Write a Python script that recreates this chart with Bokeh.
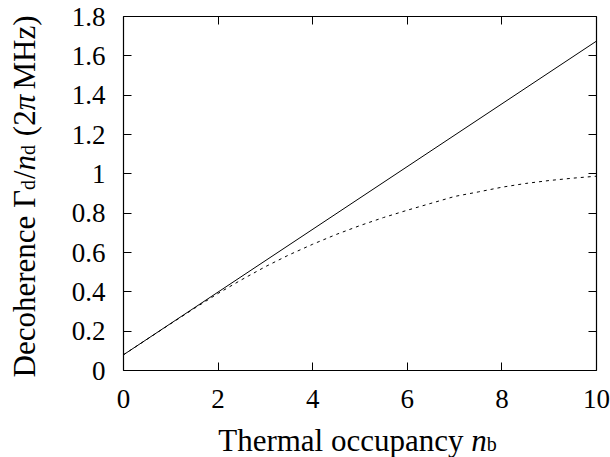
import math
from bokeh.plotting import figure
from bokeh.models import Range1d, FixedTicker, LinearAxis, Label
from bokeh.embed import file_html
from bokeh.resources import INLINE

# ---- data ----
x_solid = [0, 10]
y_solid = [0.08, 1.675]

x_dotted = [0, 0.5, 1, 1.5, 2, 2.5, 3, 3.5, 4, 4.5, 5, 5.5, 6, 6.5, 7, 7.5, 8, 8.5, 9, 9.5, 10]
y_dotted = [0.080, 0.159, 0.238, 0.316, 0.392, 0.462, 0.528, 0.588, 0.642, 0.692, 0.737,
            0.778, 0.815, 0.850, 0.885, 0.908, 0.932, 0.951, 0.966, 0.978, 0.988]

x_ticks = [0, 2, 4, 6, 8, 10]
x_tick_labels = ["0", "2", "4", "6", "8", "10"]
y_ticks = [0, 0.2, 0.4, 0.6, 0.8, 1, 1.2, 1.4, 1.6, 1.8]
y_tick_labels = ["0", "0.2", "0.4", "0.6", "0.8", "1", "1.2", "1.4", "1.6", "1.8"]

X0, X1 = 0, 10
Y0, Y1 = 0, 1.8

# ---- layout constants (pixels) ----
W, H = 610, 457
FL, FR, FT, FB = 123, 596, 16, 370      # where the data box sits on the page
FONT = "Liberation Serif"
TICK_SIZE = "27px"

# The frame spans the whole page; the ranges are widened so that the data box
# lands at FL..FR / FT..FB, and the axes are pinned to the box edges.
kx = (FR - FL) / (X1 - X0)
ky = (FB - FT) / (Y1 - Y0)
x_range = Range1d(X0 - FL / kx, X1 + (W - FR) / kx)
y_range = Range1d(Y0 - (H - FB) / ky, Y1 + FT / ky)

p = figure(width=W, height=H, x_range=x_range, y_range=y_range,
           x_axis_type=None, y_axis_type=None,
           output_backend="svg", toolbar_location=None,
           min_border=0, min_border_left=0, min_border_right=0,
           min_border_top=0, min_border_bottom=0)
p.grid.visible = False
p.outline_line_color = None
p.background_fill_color = "white"
p.border_fill_color = "white"

def make_axis(ticks, labels, show_labels, standoff, loc, bounds):
    ax = LinearAxis(fixed_location=loc, bounds=bounds)
    ax.ticker = FixedTicker(ticks=ticks)
    ax.major_tick_in = 8
    ax.major_tick_out = 0
    ax.minor_tick_line_color = None
    ax.major_tick_line_color = "black"
    ax.major_tick_line_width = 1
    ax.axis_line_color = "black"
    ax.axis_line_width = 1.2
    if show_labels:
        ax.major_label_overrides = {t: l for t, l in zip(ticks, labels)}
        ax.major_label_text_font = FONT
        ax.major_label_text_font_size = TICK_SIZE
        ax.major_label_text_color = "black"
        ax.major_label_standoff = standoff
    else:
        ax.major_label_text_font_size = "0px"
        ax.major_label_text_color = None
        ax.major_label_standoff = 0
    return ax

p.add_layout(make_axis(x_ticks, x_tick_labels, True, 19, Y0, (X0, X1)), "below")
p.add_layout(make_axis(y_ticks, y_tick_labels, True, 18, X0, (Y0, Y1)), "left")
p.add_layout(make_axis(x_ticks, x_tick_labels, False, 0, Y1, (X0, X1)), "above")
p.add_layout(make_axis(y_ticks, y_tick_labels, False, 0, X1, (Y0, Y1)), "right")

# ---- data lines ----
p.line(x_solid, y_solid, line_color="black", line_width=1)
p.line(x_dotted, y_dotted, line_color="black", line_width=1, line_dash="3 4")

# ---- axis titles built from pieces (roman / italic / subscript) ----
# screen units: x from the left edge of the frame (= page), y up from its bottom
def sx(px):
    return px

def sy(py):
    return H - py

TS = 31   # title font size
SS = 20   # subscript font size
SP = 0.25  # word space, em of the title font
SUB = 3.5  # subscript drop, px
# (text, style, size, baseline shift px, width in em, gap before in px)
x_title = [("Thermal occupancy", "normal", TS, 0, 7.914, 0),
           ("n", "italic", TS, 0, 0.5, SP * TS),
           ("b", "normal", SS, SUB, 0.55, 0)]
y_title = [("Decoherence", "normal", TS, 0, 5.219, 0),
           ("\u0393", "normal", TS, 0, 0.578, SP * TS),
           ("d", "normal", SS, SUB, 0.55, 0),
           ("/", "normal", TS, 0, 0.278, 0),
           ("n", "italic", TS, 0, 0.5, 0),
           ("d", "normal", SS, SUB, 0.55, 0),
           ("(2", "normal", TS, 0, 0.833, SP * TS),
           ("\u03c0", "italic", TS, 0, 0.5, 0),
           ("MHz)", "normal", TS, 0, 2.388, 0.17 * TS)]

def total_px(pieces):
    return sum(w * s + g for _, _, s, _, w, g in pieces)

def make_label(x, y, txt, st, sz, angle=0.0):
    return Label(x=x, y=y, x_units="screen", y_units="screen", text=txt,
                 text_font=FONT, text_font_style=st, text_font_size=f"{sz}px",
                 text_align="left", text_baseline="alphabetic", angle=angle,
                 text_color="black")

# x title: centred under the data box
cx = (FL + FR) / 2 - 2
pos = cx - total_px(x_title) / 2
base = 440
for txt, st, sz, sh, w, g in x_title:
    pos += g
    p.add_layout(make_label(sx(pos), sy(base + sh), txt, st, sz))
    pos += w * sz

# y title: rotated, centred on the data box
cy = (FT + FB) / 2 + 3
pos = cy + total_px(y_title) / 2
basex = 23.5
for txt, st, sz, sh, w, g in y_title:
    pos -= g
    p.add_layout(make_label(sx(basex + sh), sy(pos), txt, st, sz, math.pi / 2))
    pos -= w * sz

open("out.html", "w").write(file_html(p, INLINE))
